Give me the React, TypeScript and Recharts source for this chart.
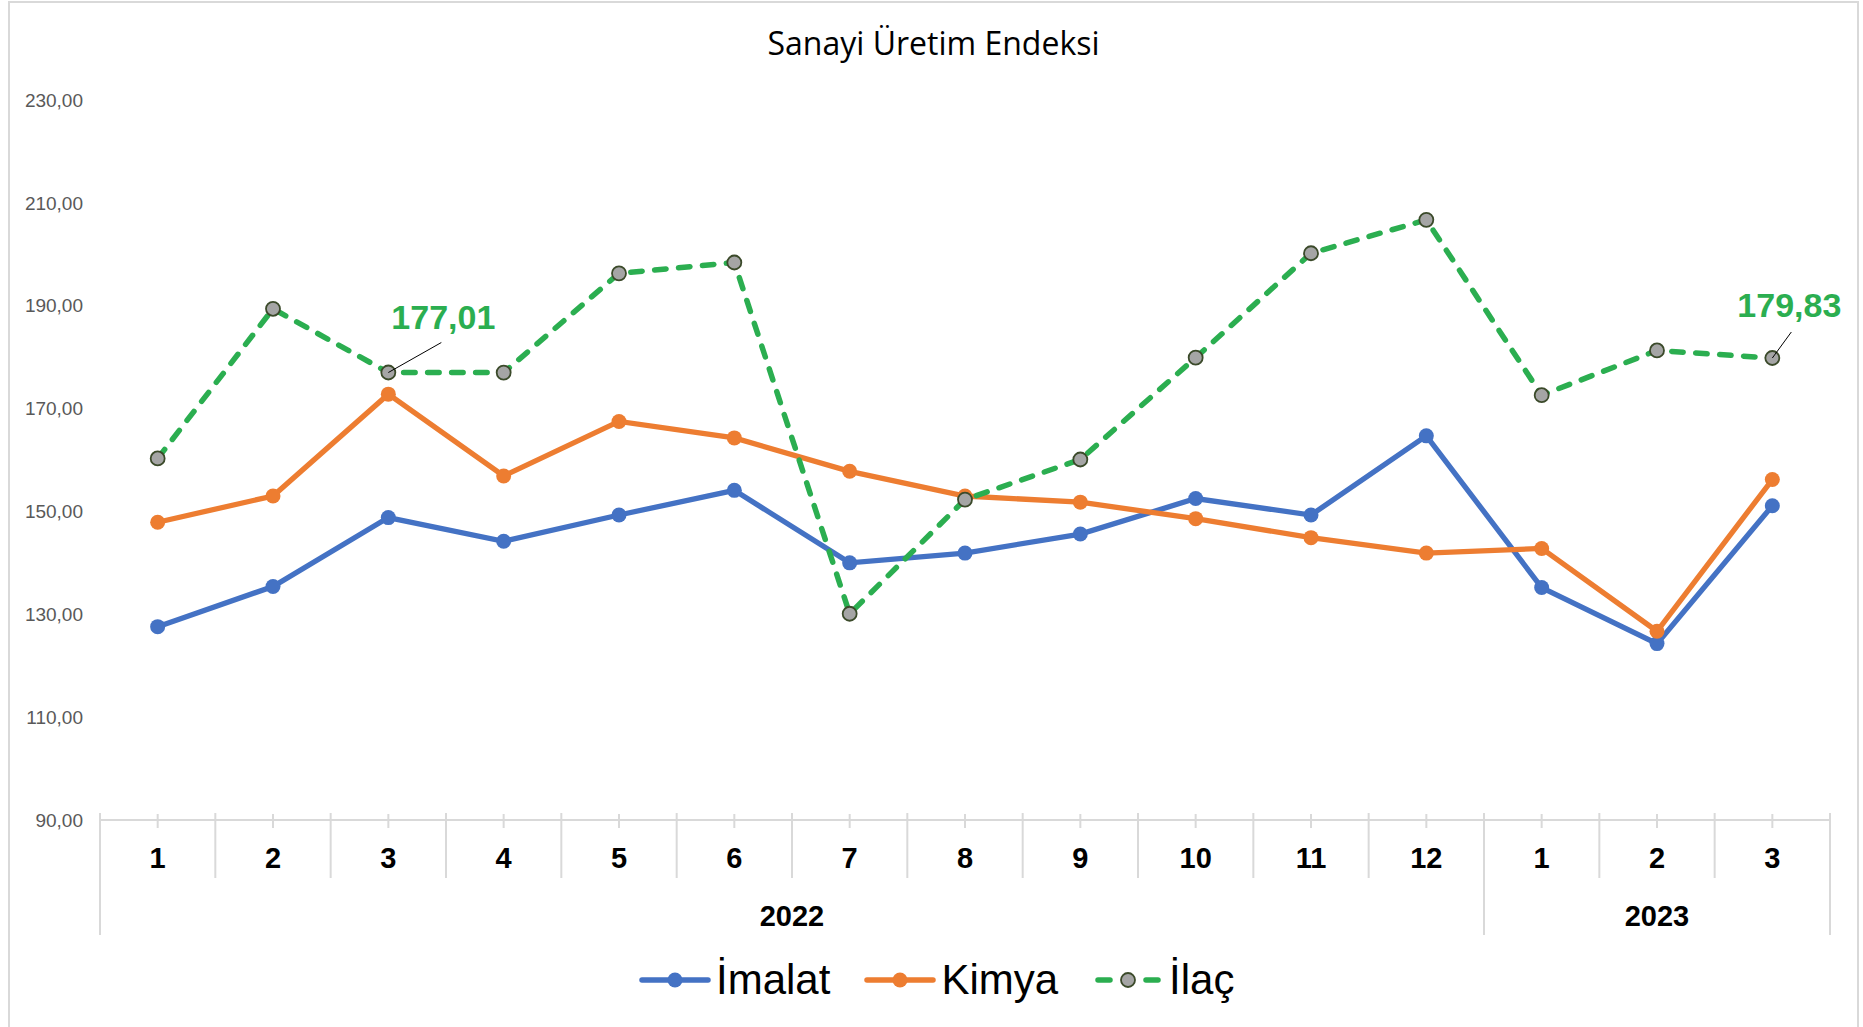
import React from 'react';
import { LineChart, Line, XAxis, YAxis, LabelList } from 'recharts';

// months along the hierarchical category axis
const months = ['1', '2', '3', '4', '5', '6', '7', '8', '9', '10', '11', '12', '1', '2', '3'];
const years = ['2022', '2023'];
const yearSpans = [12, 3];

const imalat = [127.6, 135.4, 148.8, 144.2, 149.3, 154.1, 140.0, 141.9, 145.6, 152.5, 149.3, 164.7, 135.2, 124.3, 151.1];
const kimya = [147.9, 153.0, 172.8, 156.9, 167.5, 164.3, 157.8, 153.0, 151.8, 148.6, 144.9, 141.9, 142.8, 126.7, 156.2];
const ilac = [160.3, 189.4, 177.01, 177.0, 196.3, 198.4, 130.1, 152.3, 160.1, 179.9, 200.2, 206.7, 172.6, 181.3, 179.83];

const yTicks = [90, 110, 130, 150, 170, 190, 210, 230];
// points of İlaç that carry a value label
const labeledPoints = [2, 14];

const data = months.map((m, i) => ({
  month: m,
  imalat: imalat[i],
  kimya: kimya[i],
  ilac: ilac[i],
}));

const CHART_W = 1847;
const CHART_H = 1026;
const MARGIN = { top: 97, right: 27, left: 10, bottom: 89 };
const Y_AXIS_W = 80;
const PLOT_W = CHART_W - MARGIN.left - MARGIN.right - Y_AXIS_W;
const BAND = PLOT_W / months.length;

const BLUE = '#4472C4';
const ORANGE = '#ED7D31';
const GREEN = '#2BAE50';
const GRID = '#D9D9D9';

const fmt = (v: number) => v.toFixed(2).replace('.', ',');

// year start index for each group
const yearStarts = yearSpans.map((_, k) => yearSpans.slice(0, k).reduce((a, b) => a + b, 0));

const MonthTick = (props: any) => {
  const { x, y, payload } = props;
  const i = payload.index;
  const left = x - BAND / 2;
  const right = x + BAND / 2;
  const yearIdx = yearStarts.indexOf(i);
  const isLast = i === months.length - 1;
  return (
    <g>
      <line x1={x} x2={x} y1={y - 6} y2={y + 8} stroke={GRID} strokeWidth={2} />
      <line x1={left} x2={left} y1={y - 7} y2={yearIdx >= 0 ? y + 115 : y + 58} stroke={GRID} strokeWidth={2} />
      {isLast && <line x1={right} x2={right} y1={y - 7} y2={y + 115} stroke={GRID} strokeWidth={2} />}
      <text x={x} y={y + 38} textAnchor="middle" dominantBaseline="central"
        fontFamily="Liberation Sans, Arial, sans-serif" fontWeight="bold" fontSize={29} fill="#000">
        {payload.value}
      </text>
      {yearIdx >= 0 && (
        <text x={left + (yearSpans[yearIdx] * BAND) / 2} y={y + 96} textAnchor="middle" dominantBaseline="central"
          fontFamily="Liberation Sans, Arial, sans-serif" fontWeight="bold" fontSize={29} fill="#000">
          {years[yearIdx]}
        </text>
      )}
    </g>
  );
};

const labelPos: Record<number, { tx: number; ty: number; lx: number; ly: number }> = {
  2: { tx: 55, ty: -44, lx: 53, ly: -30 },
  14: { tx: 17, ty: -41, lx: 19, ly: -26 },
};

const IlacLabel = (props: any) => {
  const { x, y, index, value } = props;
  if (!labeledPoints.includes(index)) return null;
  const p = labelPos[index] || { tx: 30, ty: -40, lx: 25, ly: -25 };
  return (
    <g>
      <line x1={x} y1={y} x2={x + p.lx} y2={y + p.ly} stroke="#000" strokeWidth={1} />
      <text x={x + p.tx} y={y + p.ty} textAnchor="middle" fontFamily="Liberation Sans, Arial, sans-serif"
        fontWeight="bold" fontSize={34} fill={GREEN}>
        {fmt(value)}
      </text>
    </g>
  );
};

const LegendIcon = ({ color, dashed }: { color: string; dashed?: boolean }) => (
  <svg width={72} height={20} style={{ display: 'block' }}>
    {dashed ? (
      <>
        <line x1={6} x2={18} y1={10} y2={10} stroke={color} strokeWidth={5.5} strokeLinecap="round" />
        <line x1={54} x2={66} y1={10} y2={10} stroke={color} strokeWidth={5.5} strokeLinecap="round" />
        <circle cx={36} cy={10} r={7} fill="#A5A5A5" stroke="#3B4A2A" strokeWidth={1.8} />
      </>
    ) : (
      <>
        <line x1={3} x2={69} y1={10} y2={10} stroke={color} strokeWidth={5.5} strokeLinecap="round" />
        <circle cx={36} cy={10} r={7.5} fill={color} />
      </>
    )}
  </svg>
);

const legendItems = [
  { name: 'İmalat', color: BLUE, dashed: false },
  { name: 'Kimya', color: ORANGE, dashed: false },
  { name: 'İlaç', color: GREEN, dashed: true },
];

export default function App() {
  return (
    <div style={{
      position: 'absolute', left: 8, top: 1, width: 1851, height: 1030,
      border: `2px solid ${GRID}`, boxSizing: 'border-box', background: '#fff',
    }}>
      <div style={{
        position: 'absolute', left: 0, top: 20, width: '100%', textAlign: 'center',
        fontFamily: '"Open Sans", sans-serif', fontSize: 32, lineHeight: '40px', color: '#000',
      }}>
        Sanayi Üretim Endeksi
      </div>
      <div style={{ position: 'absolute', left: 0, top: 0 }}>
        <LineChart width={CHART_W} height={CHART_H} data={data} margin={MARGIN}>
          <XAxis dataKey="month" interval={0} allowDuplicatedCategory tickLine={false} tickSize={0} tickMargin={0}
            padding={{ left: BAND / 2, right: BAND / 2 }}
            axisLine={{ stroke: GRID, strokeWidth: 2 }} tick={MonthTick} height={120} />
          <YAxis domain={[90, 230]} ticks={yTicks} width={Y_AXIS_W} axisLine={false} tickLine={false}
            tickSize={0} tickMargin={17} tickFormatter={fmt}
            tick={{ fontFamily: 'Liberation Sans, Arial, sans-serif', fontSize: 19, fill: '#595959' }} />
          <Line dataKey="imalat" name="İmalat" stroke={BLUE} strokeWidth={5.3} isAnimationActive={false}
            dot={{ r: 7.5, fill: BLUE, stroke: 'none' }} activeDot={false} />
          <Line dataKey="kimya" name="Kimya" stroke={ORANGE} strokeWidth={5.3} isAnimationActive={false}
            dot={{ r: 7.5, fill: ORANGE, stroke: 'none' }} activeDot={false} />
          <Line dataKey="ilac" name="İlaç" stroke={GREEN} strokeWidth={5.5} strokeDasharray="11.5 12.5" strokeLinecap="round"
            isAnimationActive={false} activeDot={false}
            dot={{ r: 7, fill: '#A5A5A5', stroke: '#3B4A2A', strokeWidth: 1.8, strokeDasharray: '' }}>
            <LabelList dataKey="ilac" content={IlacLabel} />
          </Line>
        </LineChart>
      </div>
      <div style={{
        position: 'absolute', left: 629, top: 952, height: 50, display: 'flex', alignItems: 'center',
        fontFamily: 'Liberation Sans, Arial, sans-serif', fontSize: 42, lineHeight: '50px', color: '#000',
      }}>
        {legendItems.map((it, k) => (
          <div key={it.name} style={{ display: 'flex', alignItems: 'center', marginRight: k < legendItems.length - 1 ? 34 : 0 }}>
            <LegendIcon color={it.color} dashed={it.dashed} />
            <span style={{ marginLeft: 5 }}>{it.name}</span>
          </div>
        ))}
      </div>
    </div>
  );
}
